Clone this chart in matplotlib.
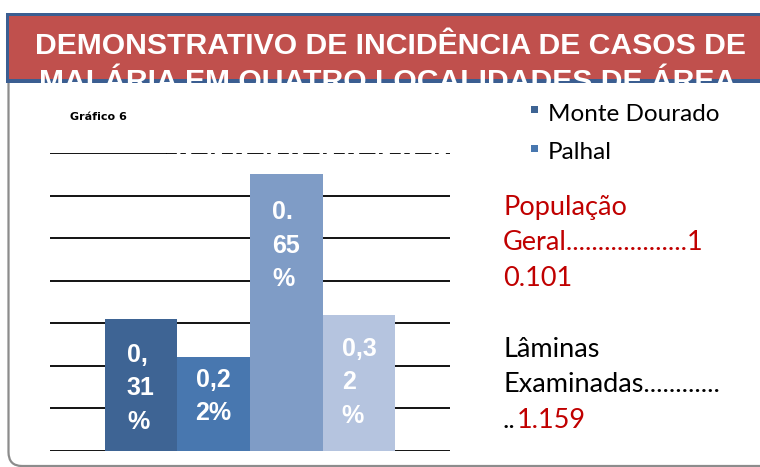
import matplotlib
matplotlib.use("Agg")
import matplotlib.pyplot as plt
from matplotlib.patches import Rectangle, PathPatch
from matplotlib.path import Path

plt.rcParams["font.family"] = "Liberation Sans"

# data
localidades = ["Monte Dourado", "Palhal", "Localidade 3", "Localidade 4"]
incidencia = [0.31, 0.22, 0.65, 0.32]
rotulos = ["0,\n31\n%", "0,2\n2%", "0.\n65\n%", "0,3\n2\n%"]
grid_ticks = [0.0, 0.1, 0.2, 0.3, 0.4, 0.5, 0.6]

cores = ["#3E6494", "#4877AF", "#7F9CC6", "#B5C4DF"]
rotulo_y = [0.147, 0.128, 0.482, 0.162]

titulo1 = "DEMONSTRATIVO DE INCIDÊNCIA DE CASOS DE"
titulo2 = "MALÁRIA EM QUATRO LOCALIDADES DE ÁREA"
vermelho = "#C00000"

fig = plt.figure(figsize=(7.6, 4.67), dpi=100)

# background canvas in pixel coords
bg = fig.add_axes([0, 0, 1, 1])
bg.set_xlim(0, 760)
bg.set_ylim(467, 0)
bg.axis("off")

# header
bg.add_patch(Rectangle((7, 14), 753, 69, facecolor="#C0504D", edgecolor="none", zorder=1))
bg.add_patch(Rectangle((7, 13), 753, 3, facecolor="#3B5E91", edgecolor="none", zorder=1.5))
bg.add_patch(Rectangle((6, 13), 2.5, 70, facecolor="#3B5E91", edgecolor="none", zorder=1.5))
bg.add_patch(Rectangle((7, 79), 753, 4, facecolor="#3B5E91", edgecolor="none", zorder=1.5))
bg.text(390, 54, titulo1, color="white", fontsize=21.7, fontweight="bold",
        ha="center", va="baseline", zorder=2)
bg.text(388, 90, titulo2, color="white", fontsize=21.7, fontweight="bold",
        ha="center", va="baseline", zorder=2)
# white panel hides lower part of the second title line
bg.add_patch(Rectangle((9, 83.5), 760, 390, facecolor="white", edgecolor="none", zorder=3))

# grey rounded border of the panel
verts = [(8.5, 83), (8.5, 452), (8.5, 466), (22, 466), (770, 466)]
codes = [Path.MOVETO, Path.LINETO, Path.CURVE3, Path.CURVE3, Path.LINETO]
bg.add_patch(PathPatch(Path(verts, codes), facecolor="none", edgecolor="#8C8C8C",
                       lw=1.6, zorder=4))

bg.text(70, 117, "Gráfico 6", fontsize=8, fontweight="bold", family="DejaVu Sans",
        ha="left", va="center", zorder=5)

# legend
bg.add_patch(Rectangle((531, 106), 7, 7, facecolor=cores[0], edgecolor="none", zorder=5))
bg.add_patch(Rectangle((531, 145), 7, 7, facecolor=cores[1], edgecolor="none", zorder=5))
bg.text(548, 121, localidades[0], fontsize=17.5, family="Lato", ha="left", va="baseline", zorder=5)
bg.text(548, 159, localidades[1], fontsize=17.5, family="Lato", ha="left", va="baseline", zorder=5)

# side notes
kw = dict(fontsize=19.5, family="Lato", ha="left", va="baseline", zorder=5)
bg.text(503, 215, "População", color=vermelho, **kw)
bg.text(503, 250, "Geral...................1", color=vermelho, **kw)
bg.text(503, 286, "0.101", color=vermelho, **kw)
bg.text(503, 357, "Lâminas", color="black", **kw)
bg.text(503, 392, "Examinadas............", color="black", **kw)
bg.text(503, 428, "..", color="black", **kw)
bg.text(517, 428, "1.159", color=vermelho, **kw)

# bar chart
ax = fig.add_axes([50 / 760, (467 - 451) / 467, 400 / 760, 298 / 467], zorder=6)
ax.patch.set_alpha(0)
ax.set_xlim(-1.25, 4.25)
ax.set_ylim(0, 0.7)
ax.axis("off")

for g in grid_ticks:
    ax.axhline(g, color="black", lw=1.3, zorder=1)
ax.axhline(0.7, xmin=0, xmax=0.29, color="black", lw=1.3, zorder=1)
ax.axhline(0.7, xmin=0.29, xmax=1, color="black", lw=1.3, zorder=1,
           dashes=(6, 2, 3, 3, 9, 2, 2, 4))

x = list(range(len(incidencia)))
ax.bar(x, incidencia, width=1.0, color=cores, zorder=2)
for xi, lab, ly in zip(x, rotulos, rotulo_y):
    ax.text(xi, ly, lab, color="white", fontsize=18, fontweight="bold",
            ha="center", va="center", multialignment="left", linespacing=1.5, zorder=3)

fig.savefig("out.png", dpi=100)
